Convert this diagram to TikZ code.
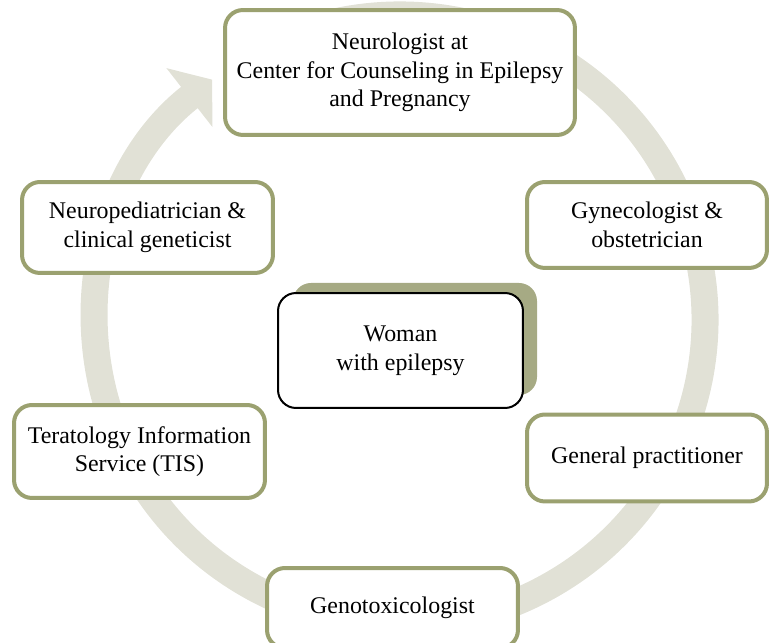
\documentclass[tikz,border=0pt]{standalone}
\usepackage{fontspec}
\setmainfont{Liberation Serif}
\usetikzlibrary{arrows.meta}
\definecolor{ringgray}{RGB}{225,225,214}
\definecolor{olive}{RGB}{155,161,112}
\definecolor{shadowolive}{RGB}{166,170,132}
\begin{document}
\begin{tikzpicture}[x=0.02cm,y=0.02cm]
	% Styles
	\tikzset{team/.style={draw=olive, line width=0.08cm, fill=white, rounded corners=0.36cm, align=center, font=\fontsize{13.6pt}{16.3pt}\selectfont, inner sep=0pt}}
	\tikzset{woman/.style={draw=black, line width=0.04cm, fill=white, rounded corners=0.36cm, align=center, font=\fontsize{13.6pt}{16.3pt}\selectfont, minimum width=4.9cm, minimum height=2.3cm}}
	\useasboundingbox (0,0) rectangle (769,643);
	\clip (0,0) rectangle (769,643);
	
	% Draw the ring
	\draw[ringgray, line width=0.54cm, -{Triangle[width=1.46cm, length=0.58cm]}] (400,323) ++(118:305) arc[start angle=118, end angle=-232, radius=305];
	
	% Draw the boxes
	\node[team, minimum width=7cm, minimum height=2.5cm] (neuro) at (400,570.5) {Neurologist at\\ Center for Counseling in Epilepsy\\ and Pregnancy};
	\node[team, minimum width=4.8cm, minimum height=1.72cm] (gyn) at (647,418) {Gynecologist \&\\ obstetrician};
	\node[team, minimum width=4.8cm, minimum height=1.74cm] (gp) at (647,185) {General practitioner};
	\node[team, minimum width=5.02cm, minimum height=1.6cm] (geno) at (392.5,35) {Genotoxicologist};
	\node[team, minimum width=5.02cm, minimum height=1.86cm] (tis) at (139.5,191.5) {Teratology Information\\ Service (TIS)};
	\node[team, minimum width=5.02cm, minimum height=1.82cm] (ped) at (147.5,415.5) {Neuropediatrician \&\\ clinical geneticist};
	
	% Draw the woman
	\fill[shadowolive, rounded corners=0.36cm] (293,248) rectangle (537,360);
	\node[woman] (wwe) at (400.5,292.5) {Woman\\ with epilepsy};
	
\end{tikzpicture}
\end{document}
